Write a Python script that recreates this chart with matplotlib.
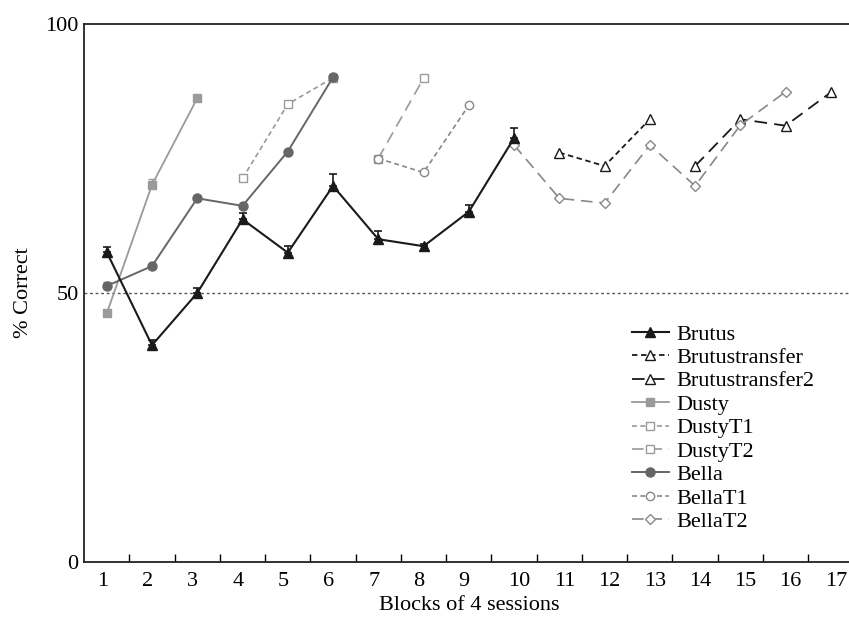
import matplotlib
matplotlib.use("Agg")
import matplotlib.pyplot as plt
import matplotlib.transforms as mtrans
import numpy as np

plt.rcParams['font.family'] = ['Liberation Serif', 'DejaVu Serif']

# ---- data ----
brutus_x = [1, 2, 3, 4, 5, 6, 7, 8, 9, 10]
brutus_y = [57.6, 40.3, 50.0, 63.7, 57.5, 69.9, 60.0, 58.7, 65.1, 78.8]
brutus_err = [0.9, 1.0, 1.0, 1.2, 1.2, 2.2, 1.5, 0.4, 1.2, 1.8]

brutustransfer_x = [11, 12, 13]
brutustransfer_y = [76.1, 73.6, 82.3]

brutustransfer2_x = [14, 15, 16, 17]
brutustransfer2_y = [73.6, 82.3, 81.1, 87.3]

dusty_x = [1, 2, 3]
dusty_y = [46.2, 70.1, 86.2]
dusty_err = [0.0, 1.0, 0.0]

dustyt1_x = [4, 5, 6]
dustyt1_y = [71.3, 85.1, 90.0]

dustyt2_x = [7, 8]
dustyt2_y = [75.0, 89.9]

bella_x = [1, 2, 3, 4, 5, 6]
bella_y = [51.3, 55.0, 67.6, 66.2, 76.3, 90.1]
bella_err = [0.8, 0.0, 0.0, 0.0, 0.0, 0.0]

bellat1_x = [7, 8, 9]
bellat1_y = [75.0, 72.4, 84.9]

bellat2_x = [10, 11, 12, 13, 14, 15, 16]
bellat2_y = [77.5, 67.6, 66.7, 77.5, 69.9, 81.2, 87.4]

x_labels = [str(i) for i in range(1, 18)]
y_ticks = [0, 50, 100]

FS = 16

# ---- figure ----
W, H = 849, 619
fig = plt.figure(figsize=(W / 100, H / 100), dpi=100)
left = 84.1 / W
bottom = (H - 562) / H
height = (562 - 24) / H
width = (853.5 - 84.1) / W
ax = fig.add_axes([left, bottom, width, height])

short = (0, (3, 2))
long_ = (0, (7, 4))

black = '#1a1a1a'
dgray = '#666666'
lgray = '#9a9a9a'
mgray = '#888888'

# reference line at 50%
ax.axhline(50, color='#555555', lw=1.0, ls=(0, (2, 2)), zorder=1)

h_brutus = ax.errorbar(brutus_x, brutus_y, yerr=[np.zeros(len(brutus_err)), brutus_err],
            color=black, lw=1.5, marker='^', ms=7, mfc=black, mec=black,
            capsize=3, elinewidth=1.2, capthick=1.2, zorder=5)[0]
h_bt, = ax.plot(brutustransfer_x, brutustransfer_y, color=black, lw=1.3, ls=short,
        marker='^', ms=7, mfc='white', mec=black, mew=1.0)
h_bt2, = ax.plot(brutustransfer2_x, brutustransfer2_y, color=black, lw=1.3, ls=long_,
        marker='^', ms=7, mfc='white', mec=black, mew=1.0)
h_dusty = ax.errorbar(dusty_x, dusty_y, yerr=[np.zeros(len(dusty_err)), dusty_err],
            color=lgray, lw=1.3, marker='s', ms=6, mfc=lgray, mec=lgray,
            capsize=3, elinewidth=1.0, capthick=1.0)[0]
h_dt1, = ax.plot(dustyt1_x, dustyt1_y, color=lgray, lw=1.2, ls=short,
        marker='s', ms=6, mfc='white', mec=lgray, mew=1.0)
h_dt2, = ax.plot(dustyt2_x, dustyt2_y, color=lgray, lw=1.2, ls=long_,
        marker='s', ms=6, mfc='white', mec=lgray, mew=1.0)
h_bella = ax.errorbar(bella_x, bella_y, yerr=[np.zeros(len(bella_err)), bella_err],
            color=dgray, lw=1.4, marker='o', ms=6.5, mfc=dgray, mec=dgray,
            capsize=3, elinewidth=1.0, capthick=1.0, zorder=4)[0]
h_bt1, = ax.plot(bellat1_x, bellat1_y, color=mgray, lw=1.2, ls=short,
        marker='o', ms=6, mfc='white', mec=mgray, mew=1.0)
h_bt2b, = ax.plot(bellat2_x, bellat2_y, color=mgray, lw=1.2, ls=long_,
        marker='D', ms=5, mfc='white', mec=mgray, mew=1.0)

ax.set_xlim(0.5, 17.5)
ax.set_ylim(0, 100)

# x: labels at categories, tick marks between categories
ax.set_xticks(range(1, 18))
ax.set_xticklabels(x_labels, fontsize=FS)
ax.set_xticks(np.arange(1.5, 17.5, 1.0), minor=True)
ax.tick_params(axis='x', which='major', length=0, pad=7)
ax.tick_params(axis='x', which='minor', direction='in', length=5.5, width=1.0)
for lbl in ax.get_xticklabels():
    dx = -4.5 if len(lbl.get_text()) == 1 else 5.0
    lbl.set_transform(lbl.get_transform() +
                      mtrans.ScaledTranslation(dx / 100, 0, fig.dpi_scale_trans))

ax.set_yticks(y_ticks)
ax.set_yticklabels([str(v) for v in y_ticks], fontsize=FS)
ax.tick_params(axis='y', direction='out', length=0, width=1.0, pad=4)

for s in ['left', 'bottom', 'top']:
    ax.spines[s].set_linewidth(1.3)
    ax.spines[s].set_color('#222222')
ax.spines['right'].set_visible(False)

ax.set_xlabel('Blocks of 4 sessions', fontsize=FS, labelpad=4)
ax.set_ylabel('% Correct', fontsize=FS, labelpad=9)

handles = [h_brutus, h_bt, h_bt2, h_dusty, h_dt1, h_dt2, h_bella, h_bt1, h_bt2b]
labels = ['Brutus', 'Brutustransfer', 'Brutustransfer2', 'Dusty', 'DustyT1',
          'DustyT2', 'Bella', 'BellaT1', 'BellaT2']
fig.legend(handles, labels, loc='upper left', bbox_to_anchor=(632 / W, 1 - 324 / H),
           frameon=False, fontsize=FS, handlelength=1.65, handletextpad=0.35,
           labelspacing=0.13, borderpad=0, borderaxespad=0)

fig.savefig('out.png', dpi=100)
